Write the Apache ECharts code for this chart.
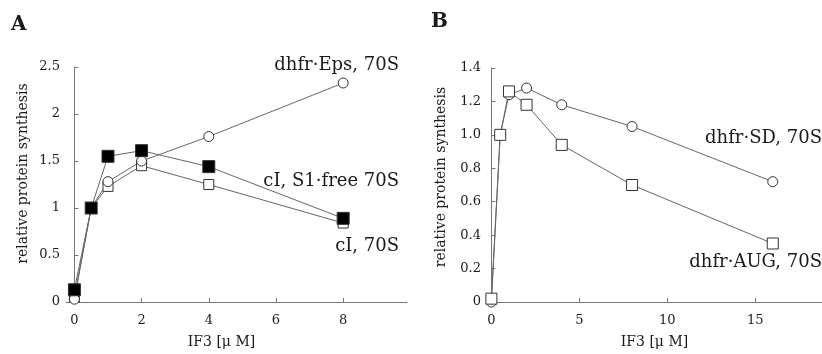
<!DOCTYPE html>
<html><head><meta charset="utf-8">
<script src="https://cdn.jsdelivr.net/npm/echarts@6/dist/echarts.min.js"></script>
<style>html,body{margin:0;padding:0;background:#fff}#c{width:822px;height:354px}</style>
</head><body><div id="c"></div>
<script>
// Panel A data
const xA = [0, 0.5, 1, 2, 4, 8];
const epsA = [0.03, 1.0, 1.28, 1.5, 1.76, 2.33];      // dhfr·Eps, 70S (open circle)
const s1freeA = [0.13, 1.0, 1.55, 1.61, 1.44, 0.89];  // cI, S1·free 70S (filled square)
const cIA = [0.05, 1.0, 1.23, 1.45, 1.25, 0.84];      // cI, 70S (open square)
const xTicksA = [0, 2, 4, 6, 8];
const yTicksA = [0, 0.5, 1, 1.5, 2, 2.5];
// Panel B data
const xB = [0, 0.5, 1, 2, 4, 8, 16];
const sdB = [0.0, 1.0, 1.24, 1.28, 1.18, 1.05, 0.72];   // dhfr·SD, 70S (open circle)
const augB = [0.02, 1.0, 1.26, 1.18, 0.94, 0.70, 0.35]; // dhfr·AUG, 70S (open square)
const xTicksB = [0, 5, 10, 15];
const yTicksB = [0, 0.2, 0.4, 0.6, 0.8, 1.0, 1.2, 1.4];

const F = 'DejaVu Serif, Liberation Serif, serif';
const ink = '#1a1a1a';
const axisCol = '#777';
const lineCol = '#666';
const pair = (xs, ys) => xs.map((x, i) => [x, ys[i]]);

function xAxis(idx, min, max, ticks) {
  return {
    type: 'value', gridIndex: idx, min: min, max: max,
    name: 'IF3 [\u03bc M]', nameLocation: 'middle', nameGap: 33,
    nameTextStyle: {fontFamily: F, fontSize: 14, color: ink, padding: idx === 0 ? [0, 30, 0, 0] : [0, 0, 0, 0]},
    axisLine: {onZero: false, lineStyle: {color: axisCol, width: 1}},
    axisTick: {inside: true, length: 4, lineStyle: {color: axisCol}, customValues: ticks},
    axisLabel: {fontFamily: F, fontSize: 13, color: ink, margin: 12, customValues: ticks},
    splitLine: {show: false}
  };
}
function yAxis(idx, max, ticks, fmt, gap, pad) {
  return {
    type: 'value', gridIndex: idx, min: 0, max: max,
    name: 'relative protein synthesis', nameLocation: 'middle', nameGap: gap,
    nameTextStyle: {fontFamily: F, fontSize: 14, color: ink, padding: [0, 0, 0, pad]},
    axisLine: {onZero: true, lineStyle: {color: axisCol, width: 1}},
    axisTick: {inside: true, length: 4, lineStyle: {color: axisCol}, customValues: ticks},
    axisLabel: {fontFamily: F, fontSize: 13, color: ink, margin: 6, customValues: ticks, formatter: fmt},
    splitLine: {show: false}
  };
}
function ser(idx, data, sym, size, fill) {
  return {
    type: 'line', xAxisIndex: idx, yAxisIndex: idx, data: data,
    symbol: sym, symbolSize: size, showAllSymbol: true,
    lineStyle: {color: lineCol, width: 1},
    itemStyle: {color: fill, borderColor: '#333', borderWidth: 1},
    z: fill === '#fff' ? 3 : 4, animation: false
  };
}

const chart = echarts.init(document.getElementById('c'), null, {renderer: 'canvas'});
chart.setOption({
  backgroundColor: '#fff',
  animation: false,
  grid: [
    {left: 66, top: 67, right: 415, bottom: 51},
    {left: 487, top: 68, right: 0, bottom: 51}
  ],
  xAxis: [xAxis(0, -0.25, 9.9, xTicksA), xAxis(1, -0.25, 18.8, xTicksB)],
  yAxis: [
    yAxis(0, 2.5, yTicksA, v => String(v), 36, 22),
    yAxis(1, 1.4, yTicksB, v => v === 0 ? '0' : v.toFixed(1), 39, 16)
  ],
  series: [
    ser(0, pair(xA, cIA), 'rect', 10, '#fff'),
    ser(0, pair(xA, epsA), 'circle', 10, '#fff'),
    ser(0, pair(xA, s1freeA), 'rect', 12, '#000'),
    ser(1, pair(xB, sdB), 'circle', 10, '#fff'),
    ser(1, pair(xB, augB), 'rect', 11, '#fff')
  ],
  graphic: [
    {type: 'text', left: 11, top: 15, style: {text: 'A', font: 'bold 20px ' + F, fill: ink}},
    {type: 'text', left: 431, top: 12, style: {text: 'B', font: 'bold 20px ' + F, fill: ink}},
    {type: 'text', right: 423, top: 56, style: {text: 'dhfr\u00b7Eps, 70S', font: '18px ' + F, fill: ink}},
    {type: 'text', right: 423, top: 172, style: {text: 'cI, S1\u00b7free 70S', font: '18px ' + F, fill: ink}},
    {type: 'text', right: 423, top: 237, style: {text: 'cI, 70S', font: '18px ' + F, fill: ink}},
    {type: 'text', right: 0, top: 129, style: {text: 'dhfr\u00b7SD, 70S', font: '18px ' + F, fill: ink}},
    {type: 'text', right: 0, top: 253, style: {text: 'dhfr\u00b7AUG, 70S', font: '18px ' + F, fill: ink}}
  ]
});
</script></body></html>
